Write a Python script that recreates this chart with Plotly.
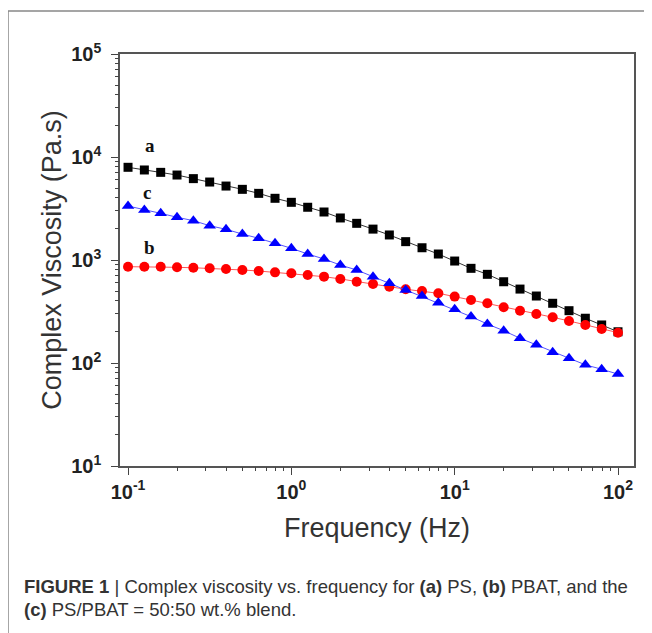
import math
import plotly.graph_objects as go

frequency = [0.1, 0.1259, 0.1585, 0.1995, 0.2512, 0.3162, 0.3981, 0.5012, 0.631, 0.7943,
             1.0, 1.259, 1.585, 1.995, 2.512, 3.162, 3.981, 5.012, 6.31, 7.943,
             10.0, 12.59, 15.85, 19.95, 25.12, 31.62, 39.81, 50.12, 63.1, 79.43, 100.0]

visc_a_ps = [7943, 7482, 7096, 6683, 6166, 5715, 5224, 4853, 4436, 3972,
             3631, 3251, 2924, 2559, 2270, 1995, 1750, 1507, 1315, 1143,
             977, 830, 726, 615, 522, 447, 380, 322, 272, 234, 201]

visc_b_pbat = [861, 861, 861, 849, 841, 830, 818, 800, 782, 759,
               743, 714, 689, 655, 615, 585, 551, 520, 500, 475,
               441, 409, 380, 348, 322, 299, 278, 256, 234, 214, 197]

visc_c_blend = [3342, 3055, 2838, 2600, 2410, 2153, 1986, 1786, 1626, 1452,
                1300, 1143, 1023, 893, 800, 689, 594, 512, 447, 385,
                332, 282, 239, 206, 174, 150, 127, 111, 96, 87, 78]

x_major_vals = [0.1, 1, 10, 100]
x_major_text = ["10<sup>-1</sup>", "10<sup>0</sup>", "10<sup>1</sup>", "10<sup>2</sup>"]
y_major_vals = [10, 100, 1000, 10000, 100000]
y_major_text = ["10<sup>1</sup>", "10<sup>2</sup>", "10<sup>3</sup>", "10<sup>4</sup>", "10<sup>5</sup>"]

x_minor_vals = [0.2, 0.3, 0.4, 0.5, 0.6, 0.7, 0.8, 0.9,
                2, 3, 4, 5, 6, 7, 8, 9,
                20, 30, 40, 50, 60, 70, 80, 90]
y_minor_vals = [20, 30, 40, 50, 60, 70, 80, 90,
                200, 300, 400, 500, 600, 700, 800, 900,
                2000, 3000, 4000, 5000, 6000, 7000, 8000, 9000,
                20000, 30000, 40000, 50000, 60000, 70000, 80000, 90000]

series = [
    ("a", visc_a_ps, "#000000", "#333333", "square", 9),
    ("b", visc_b_pbat, "#ff0000", "#ff5555", "circle", 10),
    ("c", visc_c_blend, "#0000ff", "#5555ff", "triangle-up", 11),
]

# label positions (freq, viscosity)
series_labels = [("a", 0.1365, 12800), ("c", 0.1306, 4570), ("b", 0.1346, 1310)]

X_RANGE = [0.0893, 125.3]
Y_RANGE = [10, 100000]

fig = go.Figure()
for name, vals, mcol, lcol, sym, size in series:
    fig.add_trace(go.Scatter(
        x=frequency, y=vals, mode="lines+markers", name=name,
        line=dict(color=lcol, width=1),
        marker=dict(symbol=sym, size=size, color=mcol, line=dict(width=0)),
        showlegend=False,
    ))

# invisible trace to hold the minor-tick overlay axes
fig.add_trace(go.Scatter(x=[frequency[0]], y=[visc_a_ps[0]], xaxis="x2", yaxis="y2",
                         mode="markers", marker=dict(opacity=0), hoverinfo="skip", showlegend=False))

for txt, xv, yv in series_labels:
    fig.add_annotation(x=math.log10(xv), y=math.log10(yv), xref="x", yref="y", text="<b>%s</b>" % txt,
                       showarrow=False, font=dict(family="Liberation Serif", size=19, color="#111"),
                       xanchor="center", yanchor="middle")

tickfont = dict(family="Liberation Sans", size=20, color="#222", weight="bold")
titlefont = dict(family="Liberation Sans", size=27, color="#333")

common = dict(type="log", showgrid=False, zeroline=False, showline=True, linecolor="#555",
              linewidth=1.5, mirror=True, ticks="outside", ticklen=7, tickwidth=1.3, tickcolor="#444",
              tickmode="array", tickfont=tickfont)

lx = [math.log10(v) for v in X_RANGE]
ly = [math.log10(v) for v in Y_RANGE]

fig.update_layout(
    xaxis=dict(**common, range=lx, tickvals=x_major_vals, ticktext=x_major_text,
               title=dict(text="Frequency (Hz)", font=titlefont, standoff=16)),
    yaxis=dict(**common, range=ly, tickvals=y_major_vals, ticktext=y_major_text,
               ticklabelstandoff=6,
               title=dict(text="Complex Viscosity (Pa.s)", font=titlefont, standoff=2)),
    xaxis2=dict(type="log", overlaying="x", side="bottom", range=lx, showgrid=False, zeroline=False,
                showline=False, ticks="outside", ticklen=4, tickwidth=1, tickcolor="#444",
                tickmode="array", tickvals=x_minor_vals, showticklabels=False),
    yaxis2=dict(type="log", overlaying="y", side="left", range=ly, showgrid=False, zeroline=False,
                showline=False, ticks="outside", ticklen=4, tickwidth=1, tickcolor="#444",
                tickmode="array", tickvals=y_minor_vals, showticklabels=False),
)

# outer figure frame
fig.add_shape(type="rect", xref="paper", yref="paper", x0=-0.2179, x1=1.2, y0=-0.5, y1=1.1044,
              line=dict(color="#888", width=1.5), fillcolor="rgba(0,0,0,0)", layer="below")

caption1 = "<b>FIGURE 1</b> | Complex viscosity vs. frequency for <b>(a)</b> PS, <b>(b)</b> PBAT, and the"
caption2 = "<b>(c)</b> PS/PBAT = 50:50 wt.% blend."
capfont = dict(family="Liberation Sans", size=18.5, color="#333")
fig.add_annotation(x=-0.1907, y=-0.2913, xref="paper", yref="paper", text=caption1, showarrow=False,
                   xanchor="left", yanchor="middle", font=capfont)
fig.add_annotation(x=-0.1907, y=-0.3475, xref="paper", yref="paper", text=caption2, showarrow=False,
                   xanchor="left", yanchor="middle", font=capfont)

fig.update_layout(
    width=644, height=625,
    margin=dict(l=112, r=18, t=46, b=167),
    paper_bgcolor="white", plot_bgcolor="white",
)

fig.write_html("out.html")
